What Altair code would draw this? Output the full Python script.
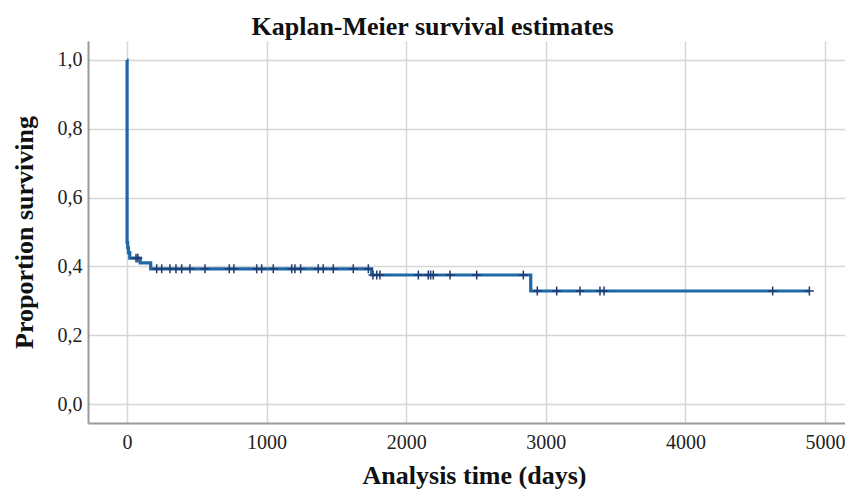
import altair as alt
import pandas as pd

# Kaplan-Meier step function (time in days, survival proportion from that time on)
step_times = [0, 1, 5, 10, 20, 95, 170, 1753, 2892, 4888]
step_surv = [1.0, 0.47, 0.455, 0.44, 0.424, 0.41, 0.393, 0.375, 0.3285, 0.3285]

# Censored observations (+ marks)
cens_times = [65, 78,
              213, 249, 308, 351, 392, 451, 559, 733, 766, 929, 965, 1048, 1180,
              1203, 1244, 1370, 1406, 1478, 1621, 1729,
              1762, 1789, 1812, 2087, 2158, 2175, 2194, 2314, 2505, 2839,
              2939, 3078, 3245, 3388, 3417, 4625, 4888]
cens_surv = [0.424, 0.424,
             0.393, 0.393, 0.393, 0.393, 0.393, 0.393, 0.393, 0.393, 0.393, 0.393,
             0.393, 0.393, 0.393, 0.393, 0.393, 0.393, 0.393, 0.393, 0.393, 0.393,
             0.375, 0.375, 0.375, 0.375, 0.375, 0.375, 0.375, 0.375, 0.375, 0.375,
             0.3285, 0.3285, 0.3285, 0.3285, 0.3285, 0.3285, 0.3285]

x_ticks = [0, 1000, 2000, 3000, 4000, 5000]
y_ticks = [0.0, 0.2, 0.4, 0.6, 0.8, 1.0]

steps = pd.DataFrame({"t": step_times, "s": step_surv})
cens = pd.DataFrame({"t": cens_times, "s": cens_surv})

FONT = "Liberation Serif"

x_scale = alt.Scale(domain=[-279, 5143], nice=False, zero=False)
y_scale = alt.Scale(domain=[-0.0552, 1.0552], nice=False, zero=False)

x_axis = alt.Axis(
    values=x_ticks, title="Analysis time (days)", grid=True,
    gridColor="#d6d6d6", gridWidth=1.5,
    domainColor="#9a9a9a", domainWidth=2,
    ticks=True, tickSize=0, labelPadding=9,
    labelFont=FONT, labelFontSize=20, labelColor="#222222",
    titleFont=FONT, titleFontSize=26, titleFontWeight="bold", titleColor="#111111",
    titleBaseline="alphabetic", titleY=60, titleX=386, titleAlign="center",
    format="d",
)
y_axis = alt.Axis(
    values=y_ticks, title="Proportion surviving", grid=True,
    gridColor="#d6d6d6", gridWidth=1.5,
    domainColor="#9a9a9a", domainWidth=2,
    ticks=True, tickSize=0, labelPadding=6,
    labelExpr="replace(format(datum.value, '.1f'), '.', ',')",
    labelFont=FONT, labelFontSize=20, labelColor="#222222",
    titleFont=FONT, titleFontSize=26, titleFontWeight="bold", titleColor="#111111",
    titleAngle=270, titleBaseline="middle", titleAlign="center",
    titleX=-64, titleY=191,
)

line = alt.Chart(steps).mark_line(
    interpolate="step-after", color="#1f68a8", strokeWidth=3.2
).encode(
    x=alt.X("t:Q", scale=x_scale, axis=x_axis),
    y=alt.Y("s:Q", scale=y_scale, axis=y_axis),
)

marks = alt.Chart(cens).mark_point(
    shape="M0,-1L0,1M-1,0L1,0", filled=False, color="#1f3b6f",
    strokeWidth=1.5, size=80, opacity=1
).encode(
    x=alt.X("t:Q", scale=x_scale),
    y=alt.Y("s:Q", scale=y_scale),
)

chart = alt.layer(line, marks).properties(
    width=757, height=382,
    autosize=alt.AutoSizeParams(type="none"),
    padding={"left": 80, "top": 33, "right": 0, "bottom": 66},
    title=alt.TitleParams(
        "Kaplan-Meier survival estimates", font=FONT, fontSize=26,
        fontWeight="bold", color="#111111", anchor="middle",
        baseline="alphabetic", offset=8, dx=-34, dy=28,
    ),
    background="white",
).configure_view(stroke=None)

chart.save("out.html", embed_options={"renderer": "svg", "actions": False})
